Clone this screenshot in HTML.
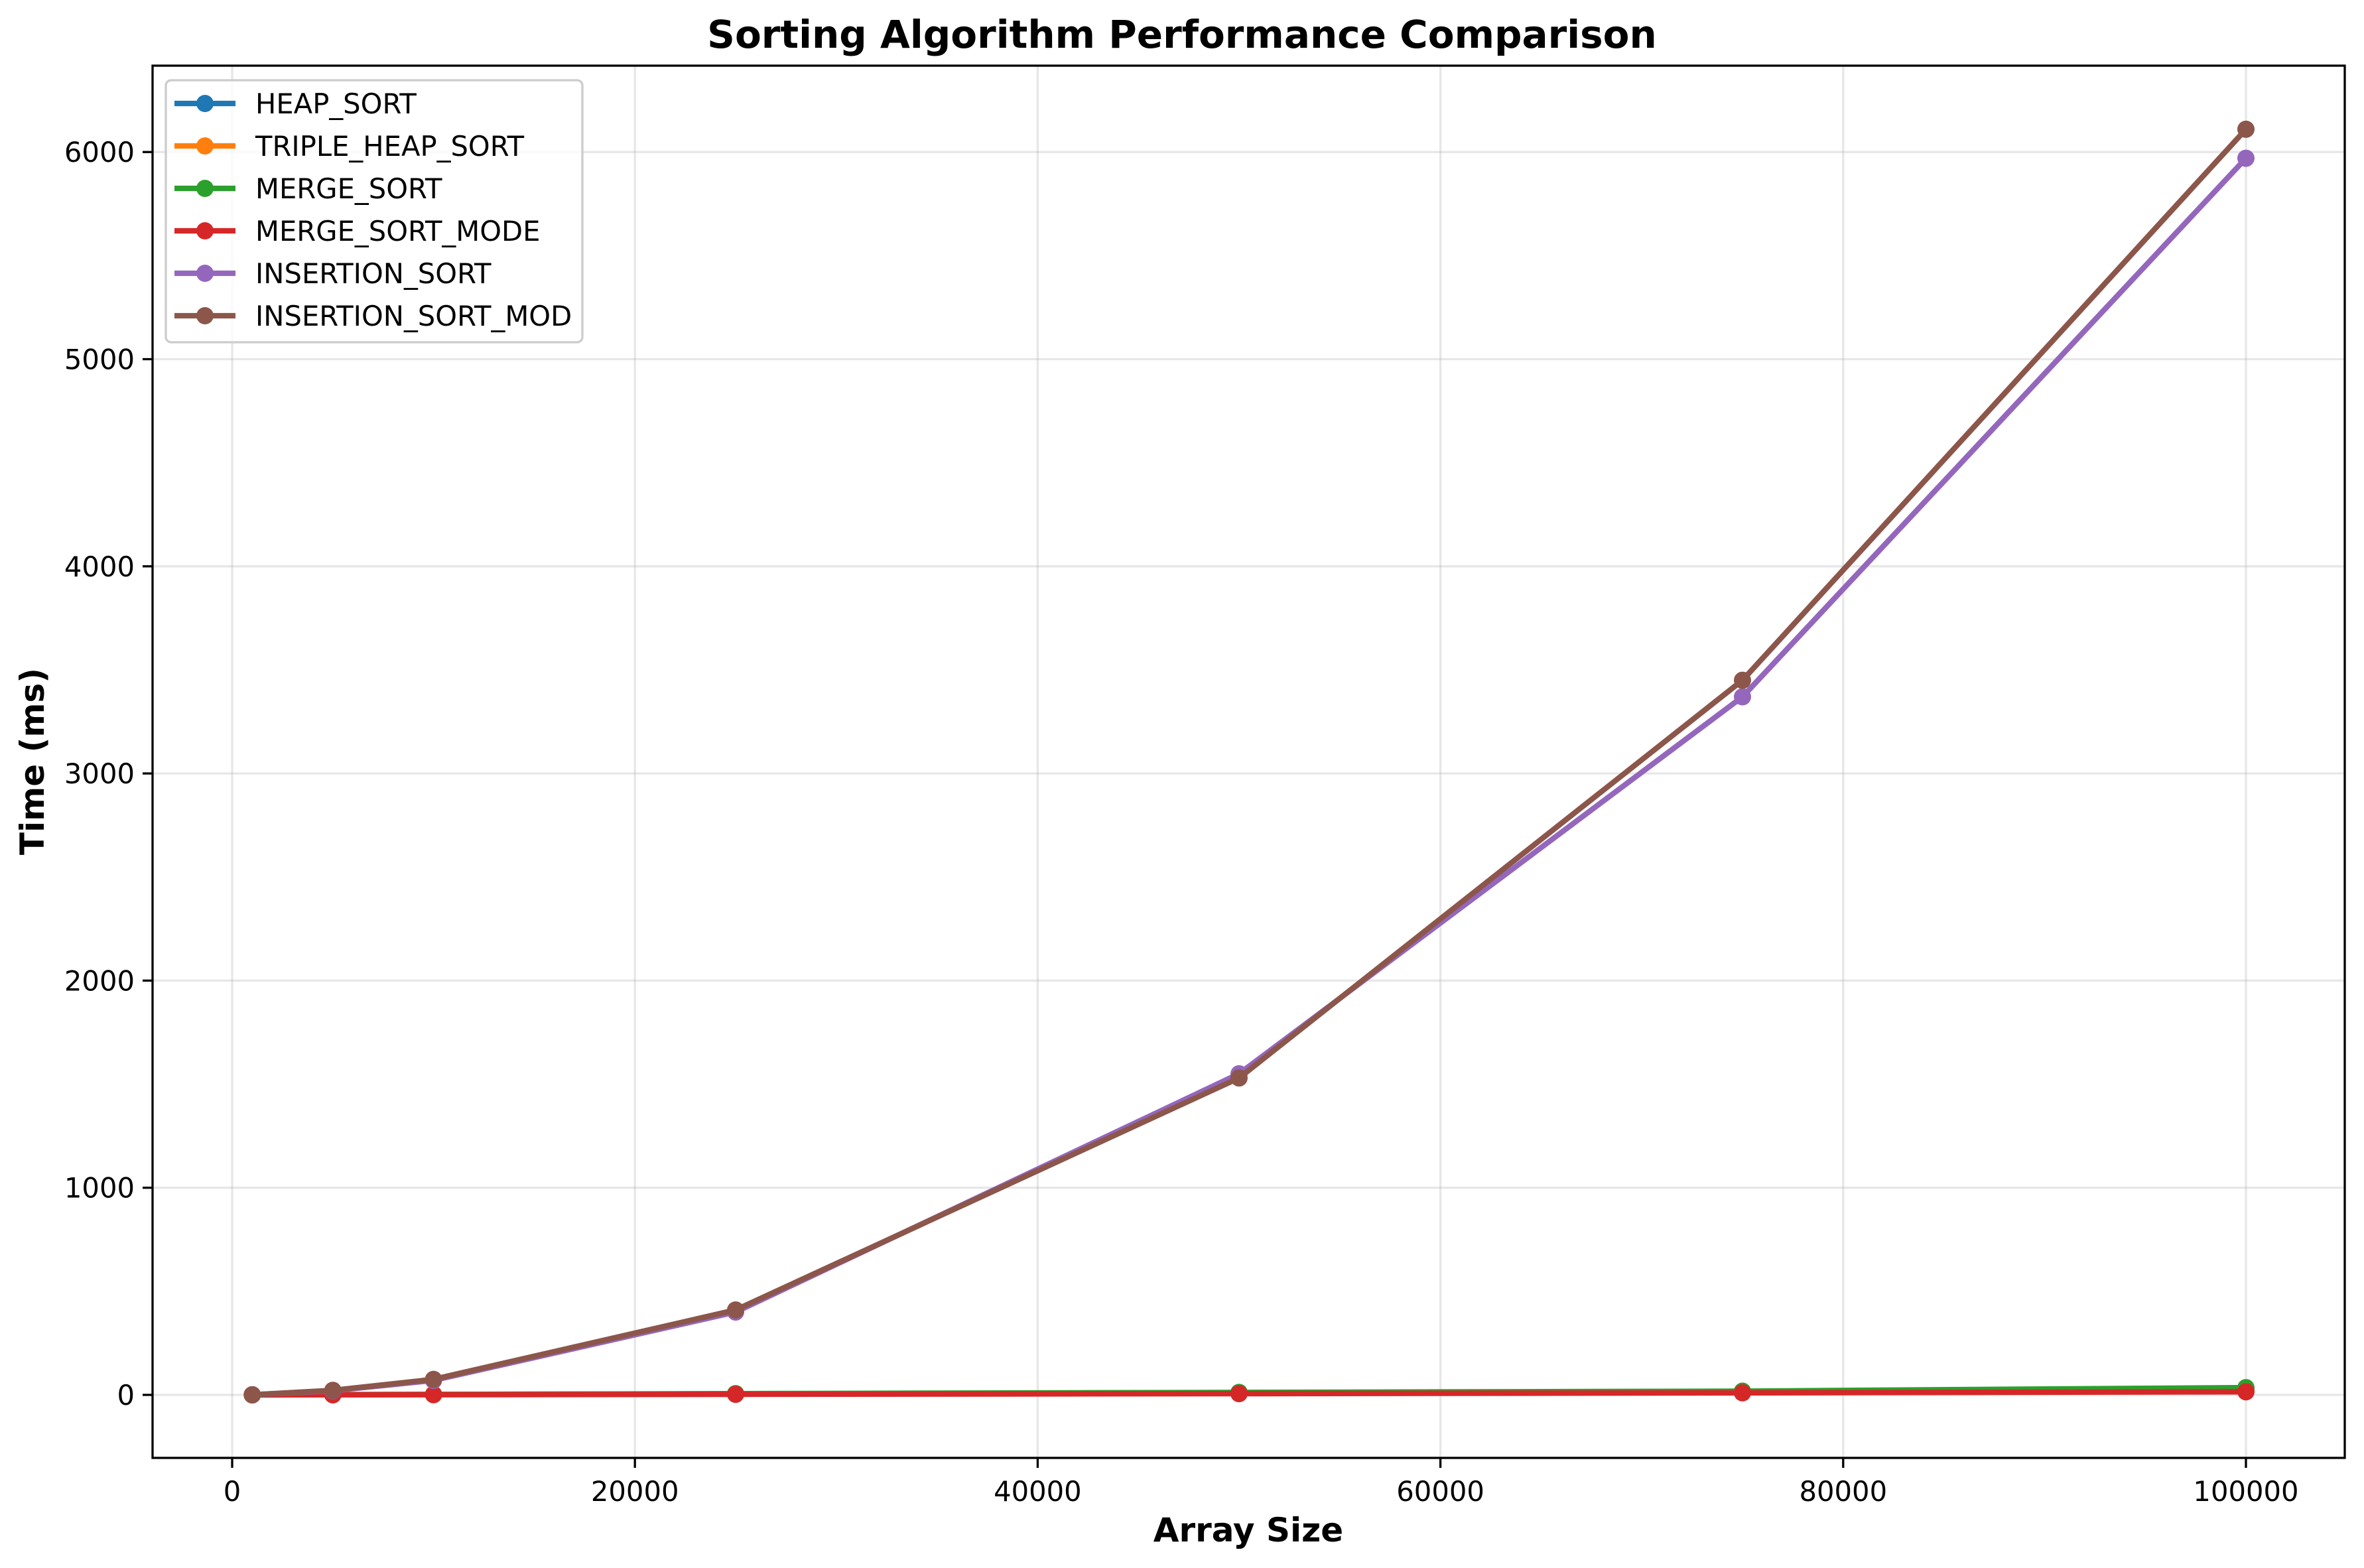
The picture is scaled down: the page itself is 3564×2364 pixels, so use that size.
<!DOCTYPE html>
<html><head><meta charset="utf-8"><style>
html,body{margin:0;padding:0;background:#fff;}
svg{display:block;font-family:"DejaVu Sans","Liberation Sans",sans-serif;}
</style></head><body>
<svg id="chart" width="3564" height="2364" viewBox="0 0 3564 2364" xmlns="http://www.w3.org/2000/svg">
<rect width="3564" height="2364" fill="#fff"/>
<g id="grid"></g>
<g id="series"></g>
<rect x="230" y="99" width="3305" height="2099" fill="none" stroke="#000" stroke-width="3.3"/>
<g id="ticks"></g>
<text x="1782" y="72" text-anchor="middle" font-size="58" font-weight="bold">Sorting Algorithm Performance Comparison</text>
<text x="1882" y="2324" text-anchor="middle" font-size="50" font-weight="bold">Array Size</text>
<text transform="translate(66,1148) rotate(-90)" text-anchor="middle" font-size="50" font-weight="bold">Time (ms)</text>
<g id="legend"></g>
</svg>
<script>
const sizes = [1000, 5000, 10000, 25000, 50000, 75000, 100000];
const heapSort = [0.2, 1, 2, 5, 10, 15, 22];
const tripleHeapSort = [0.2, 1, 2, 4, 9, 14, 20];
const mergeSort = [0.3, 1, 2, 6, 12, 18, 35];
const mergeSortMode = [0.2, 0.5, 1, 3, 6, 10, 15];
const insertionSort = [0.5, 20, 70, 400, 1550, 3370, 5970];
const insertionSortMod = [0.5, 22, 75, 410, 1530, 3450, 6110];
const seriesNames = ["HEAP_SORT","TRIPLE_HEAP_SORT","MERGE_SORT","MERGE_SORT_MODE","INSERTION_SORT","INSERTION_SORT_MOD"];
const xTicks = [0, 20000, 40000, 60000, 80000, 100000];
const yTicks = [0, 1000, 2000, 3000, 4000, 5000, 6000];

const NS = "http://www.w3.org/2000/svg";
const colors = ["#1f77b4","#ff7f0e","#2ca02c","#d62728","#9467bd","#8c564b"];
const allSeries = [heapSort, tripleHeapSort, mergeSort, mergeSortMode, insertionSort, insertionSortMod];
const X = v => 350 + (v / 100000) * 3036;
const Y = v => 2103 - (v / 1000) * 312.3;
function mk(tag, attrs, parent) {
  const e = document.createElementNS(NS, tag);
  for (const k in attrs) e.setAttribute(k, attrs[k]);
  parent.appendChild(e);
  return e;
}
const grid = document.getElementById('grid');
const ticks = document.getElementById('ticks');
xTicks.forEach(t => {
  const g = mk('line', {x1: X(t), x2: X(t), y1: 99, y2: 2198, stroke: '#b0b0b0', 'stroke-opacity': 0.3, 'stroke-width': 3.3}, grid);
  
  
  const tk = mk('line', {x1: X(t), x2: X(t), y1: 2198, y2: 2213, stroke: '#000', 'stroke-width': 3.3}, ticks);
  
  
  const lb = mk('text', {x: X(t), y: 2263, 'text-anchor': 'middle', 'font-size': 41.7}, ticks);
  lb.textContent = String(t);
  
  
});
yTicks.forEach(t => {
  const g = mk('line', {x1: 230, x2: 3535, y1: Y(t), y2: Y(t), stroke: '#b0b0b0', 'stroke-opacity': 0.3, 'stroke-width': 3.3}, grid);
  
  
  const tk = mk('line', {x1: 215, x2: 230, y1: Y(t), y2: Y(t), stroke: '#000', 'stroke-width': 3.3}, ticks);
  
  
  const lb = mk('text', {x: 203, y: Y(t) + 15, 'text-anchor': 'end', 'font-size': 41.7}, ticks);
  lb.textContent = String(t);
  
  
});
const sg = document.getElementById('series');
allSeries.forEach((vals, i) => {
  const g = mk('g', {}, sg);
  
  
  const pts = sizes.map((s, j) => X(s) + ',' + Y(vals[j])).join(' ');
  const pl = mk('polyline', {points: pts, fill: 'none', stroke: colors[i], 'stroke-width': 8.3, 'stroke-linejoin': 'round', 'stroke-linecap': 'square'}, g);
  
  
  sizes.forEach((s, j) => {
    const c = mk('circle', {cx: X(s), cy: Y(vals[j]), r: 13, fill: colors[i]}, g);
    
    
  });
});
const lg = document.getElementById('legend');
const box = mk('rect', {x: 250, y: 121, width: 628, height: 395, rx: 8, fill: '#fff', 'fill-opacity': 0.8, stroke: '#cccccc', 'stroke-width': 3.3}, lg);


seriesNames.forEach((n, i) => {
  const cy = 156 + i * 64;
  const e = mk('g', {}, lg);
  
  
  mk('line', {x1: 263, x2: 355, y1: cy, y2: cy, stroke: colors[i], 'stroke-width': 8.3}, e);
  mk('circle', {cx: 309, cy: cy, r: 13, fill: colors[i]}, e);
  const t = mk('text', {x: 385, y: cy + 15, 'font-size': 41.7}, e);
  t.textContent = n;
});
</script>
</body></html>
